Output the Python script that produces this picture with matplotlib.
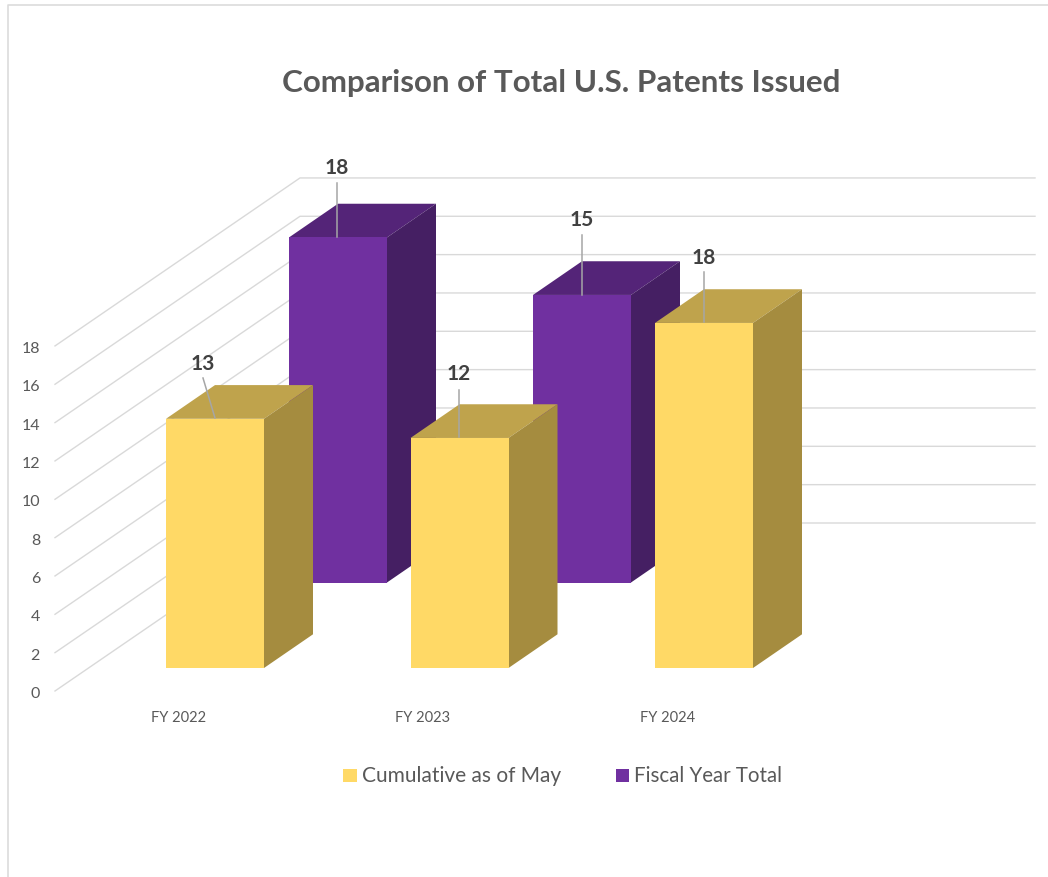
import numpy as np
import matplotlib.pyplot as plt
from matplotlib.patches import Polygon, Rectangle

years = ["FY 2022", "FY 2023", "FY 2024"]
cumulative = [13, 12, 18]
fiscal_total = [18, 15, np.nan]
y_ticks = [0, 2, 4, 6, 8, 10, 12, 14, 16, 18]

YELLOW = ("#ffd966", "#bfa34c", "#a58c3f")
PURPLE = ("#7030a0", "#542478", "#451f63")
GRID = "#d9d9d9"
TEXT = "#595959"
LABEL = "#404040"

# layout, in pixels of the 1048x877 picture
PX_PER_UNIT = 19.17
BAR_W = 98
DEPTH = (49, -33.7)
WALL = (245, -168)

plt.rcParams['font.family'] = ['Lato', 'DejaVu Sans']

fig = plt.figure(figsize=(10.48, 8.77), dpi=100)
ax = fig.add_axes([0, 0, 1, 1])
ax.set_xlim(0, 1048)
ax.set_ylim(877, 0)
ax.axis("off")


def draw_bar(x, base, value, cols):
    # front, top and side faces of one fake 3d column
    top = base - value * PX_PER_UNIT
    dx, dy = DEPTH
    ax.add_patch(Polygon([(x, top), (x + BAR_W, top), (x + BAR_W + dx, top + dy), (x + dx, top + dy)],
                         fc=cols[1], ec="none", zorder=3))
    ax.add_patch(Polygon([(x + BAR_W, base), (x + BAR_W, top), (x + BAR_W + dx, top + dy), (x + BAR_W + dx, base + dy)],
                         fc=cols[2], ec="none", zorder=3))
    ax.add_patch(Rectangle((x, top), BAR_W, value * PX_PER_UNIT, fc=cols[0], ec="none", zorder=3))


# chart frame, cut off by the right and bottom of the picture
ax.plot([7.5, 7.5, 1048], [877, 4.5, 4.5], color="#dcdcdc", lw=1.2, zorder=1)

ax.text(561, 83, "Comparison of Total U.S. Patents Issued", ha="center", va="center",
        fontsize=22.6, fontweight="bold", color=TEXT)

# walls and axis labels
for v in y_ticks:
    y0 = 691 - v * PX_PER_UNIT
    ax.plot([55, 55 + WALL[0], 1035], [y0, y0 + WALL[1], y0 + WALL[1]], color=GRID, lw=1.0, zorder=2)
    ax.text(40, y0 + 3, str(v), ha="right", va="center", fontsize=11.5, color=TEXT)

# back row first so the yellow columns sit in front
purple_x = [289, 533, 777]
yellow_x = [166, 410.5, 655]
for x, v in zip(purple_x, fiscal_total):
    if not np.isnan(v):
        draw_bar(x, 582.5, v, PURPLE)
for x, v in zip(yellow_x, cumulative):
    draw_bar(x, 668, v, YELLOW)

# data labels with leader lines
labels = [
    (cumulative[0], 203, 363.5, (203, 215), (378, 418)),
    (fiscal_total[0], 337, 168.5, (337, 337), (183, 237)),
    (cumulative[1], 459, 374.5, (459, 459), (390, 437)),
    (fiscal_total[1], 582, 220.5, (582, 582), (235, 295)),
    (cumulative[2], 704, 257.5, (704, 704), (272, 322)),
]
for v, lx, ly, xs, ys in labels:
    ax.plot(xs, ys, color="#a6a6a6", lw=1.1, zorder=4)
    ax.text(lx, ly, str(int(v)), ha="center", va="center", fontsize=15, fontweight="bold", color=LABEL, zorder=5)

for x, name in zip(yellow_x, years):
    ax.text(x + 12.5, 717.5, name, ha="center", va="center", fontsize=10.5, color=TEXT)

# legend
ax.add_patch(Rectangle((343, 769), 14, 13, fc=YELLOW[0], ec="none"))
ax.text(362, 776, "Cumulative as of May", ha="left", va="center", fontsize=15, color=TEXT)
ax.add_patch(Rectangle((616, 769), 13, 13, fc=PURPLE[0], ec="none"))
ax.text(634, 776, "Fiscal Year Total", ha="left", va="center", fontsize=14.8, color=TEXT)

plt.savefig("out.png", dpi=100)
